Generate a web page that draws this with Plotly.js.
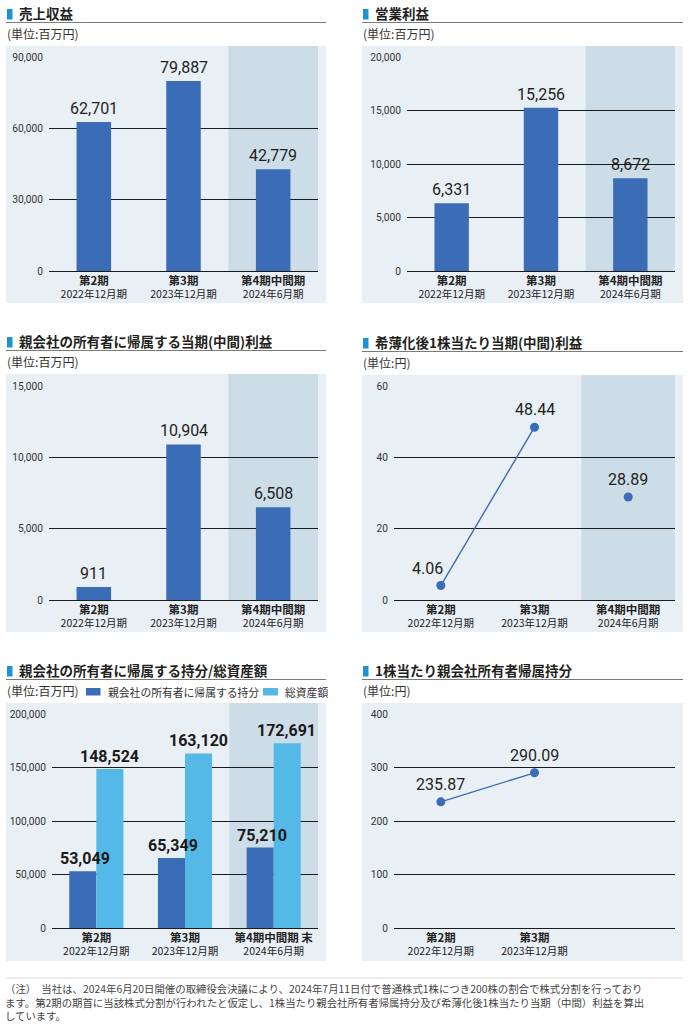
<!DOCTYPE html>
<html><head><meta charset="utf-8">
<script src="https://cdn.plot.ly/plotly-3.0.1.min.js"></script>
<style>html,body{margin:0;padding:0;background:#fff}</style>
</head><body><div id="chart" style="width:693px;height:1025px"></div>
<script>
// ---- data ----
const periods = ['第2期', '第3期', '第4期中間期'];
const periodDates = ['2022年12月期', '2023年12月期', '2024年6月期'];
const periodsEnd = ['第2期', '第3期', '第4期中間期 末'];
const revenue = [62701, 79887, 42779];
const operatingProfit = [6331, 15256, 8672];
const netProfit = [911, 10904, 6508];
const epsAnnual = [4.06, 48.44];
const epsInterim = [28.89];
const equity = [53049, 65349, 75210];
const totalAssets = [148524, 163120, 172691];
const bps = [235.87, 290.09];
const seriesNames = ['親会社の所有者に帰属する持分', '総資産額'];
const chartTitles = ['売上収益', '営業利益', '親会社の所有者に帰属する当期(中間)利益',
  '希薄化後1株当たり当期(中間)利益', '親会社の所有者に帰属する持分/総資産額', '1株当たり親会社所有者帰属持分'];
const unitMillion = '(単位:百万円)';
const unitYen = '(単位:円)';
const note = ['（注）　当社は、2024年6月20日開催の取締役会決議により、2024年7月11日付で普通株式1株につき200株の割合で株式分割を行っており',
  'ます。第2期の期首に当該株式分割が行われたと仮定し、1株当たり親会社所有者帰属持分及び希薄化後1株当たり当期（中間）利益を算出',
  'しています。'];

// ---- styles ----
const W = 693, H = 1025;
const px = x => x / W, py = y => 1 - y / H;
const C_DARK = '#3a6db5', C_LIGHT = '#55b9e7', C_BG = '#e8eff5', C_SHADE = '#cddde7', C_MARK = '#1d93d3';
const FONT = '"Noto Sans CJK JP", sans-serif';
const NUMFONT = 'Roboto, "Noto Sans", sans-serif';

const tickLabels = (names, dates) => names.map((n, i) =>
  '<span style="font-size:11.5px"><b>' + n + '</b></span><br>' + dates[i]);

const P = [
  {x0: 49, x1: 318, top: 57, zero: 271, bl: 6, br: 326, bt: 46, bb: 303, max: 90000, dt: 30000},
  {x0: 407, x1: 675, top: 57, zero: 271, bl: 362, br: 683, bt: 46, bb: 303, max: 20000, dt: 5000},
  {x0: 49, x1: 318, top: 386, zero: 600, bl: 6, br: 326, bt: 374, bb: 632, max: 15000, dt: 5000},
  {x0: 394, x1: 675, top: 386, zero: 600, bl: 362, br: 683, bt: 375, bb: 632, max: 60, dt: 20},
  {x0: 52, x1: 318, top: 714, zero: 928, bl: 6, br: 326, bt: 703, bb: 961, max: 200000, dt: 50000},
  {x0: 394, x1: 675, top: 714, zero: 928, bl: 362, br: 683, bt: 703, bb: 961, max: 400, dt: 100}
];
const shaded = [true, true, true, true, true, false];

const layout = {
  width: W, height: H, margin: {l: 0, r: 0, t: 0, b: 0},
  paper_bgcolor: '#ffffff', plot_bgcolor: 'rgba(0,0,0,0)',
  showlegend: false, barmode: 'overlay',
  font: {family: FONT, color: '#222'},
  shapes: [], annotations: []
};

P.forEach((p, k) => {
  const n = k === 0 ? '' : String(k + 1);
  const tl = k === 4 ? tickLabels(periodsEnd, periodDates)
           : k === 5 ? tickLabels(periods.slice(0, 2), periodDates.slice(0, 2))
           : tickLabels(periods, periodDates);
  layout['xaxis' + n] = {
    domain: [px(p.x0), px(p.x1)], range: [-0.5, 2.5], anchor: 'y' + n,
    tickmode: 'array', tickvals: tl.map((_, i) => i), ticktext: tl,
    showgrid: false, zeroline: false, showline: false, ticks: '',
    tickfont: {family: FONT, size: 10.5, color: '#222'}, fixedrange: true, ticklabelstandoff: 2
  };
  layout['yaxis' + n] = {
    domain: [py(p.zero), py(p.top)], range: [0, p.max], anchor: 'x' + n,
    dtick: p.dt, tick0: 0, tickformat: ',', showgrid: true, gridcolor: '#1a1a1a', gridwidth: 1,
    zeroline: true, zerolinecolor: '#1a1a1a', zerolinewidth: 1, showline: false, ticks: '',
    tickfont: {family: NUMFONT, size: 10.2, color: '#333'}, ticklabelstandoff: 5, fixedrange: true
  };
  layout.shapes.push({type: 'rect', xref: 'paper', yref: 'paper', layer: 'below',
    x0: px(p.bl), x1: px(p.br), y0: py(p.bb), y1: py(p.bt), fillcolor: C_BG, line: {width: 0}});
  if (shaded[k]) {
    layout.shapes.push({type: 'rect', xref: 'x' + n, yref: 'paper', layer: 'below',
      x0: 1.5, x1: 2.5, y0: py(p.zero), y1: py(p.bt), fillcolor: C_SHADE, line: {width: 0}});
  }
  const tY = p.bt - 33, uY = p.bt - 23.5, unitY = p.bt - 13;
  const left = p.bl;
  layout.shapes.push({type: 'rect', xref: 'paper', yref: 'paper',
    x0: px(left + 1), x1: px(left + 6.5), y0: py(tY + 6.5), y1: py(tY - 4), fillcolor: C_MARK, line: {width: 0}});
  layout.shapes.push({type: 'line', xref: 'paper', yref: 'paper',
    x0: px(left), x1: px(p.br), y0: py(uY), y1: py(uY), line: {color: '#7a7a7a', width: 1}});
  layout.annotations.push({xref: 'paper', yref: 'paper', x: px(left + 10.5), y: py(tY), xanchor: 'left', yanchor: 'middle',
    text: '<b>' + chartTitles[k] + '</b>', showarrow: false, font: {family: FONT, size: 13.5, color: '#231f20'}});
  layout.annotations.push({xref: 'paper', yref: 'paper', x: px(left - 1.5), y: py(unitY), xanchor: 'left', yanchor: 'middle',
    text: (k === 3 || k === 5) ? unitYen : unitMillion, showarrow: false, font: {family: FONT, size: 12, color: '#333'}});
});

const traces = [];
const barSeries = [revenue, operatingProfit, netProfit];
barSeries.forEach((vals, k) => {
  const n = k === 0 ? '' : String(k + 1);
  traces.push({type: 'bar', x: periods.map((_, i) => i), y: vals, xaxis: 'x' + n, yaxis: 'y' + n,
    width: 0.385, marker: {color: C_DARK, line: {width: 0}}, hoverinfo: 'skip'});
  vals.forEach((v, i) => layout.annotations.push({xref: 'x' + n, yref: 'y' + n, x: i, y: v,
    text: v.toLocaleString('en-US'), showarrow: false, yanchor: 'bottom', yshift: 2,
    font: {family: NUMFONT, size: 16, color: '#231f20'}}));
});

traces.push({type: 'scatter', mode: 'lines+markers', x: epsAnnual.map((_, i) => i), y: epsAnnual,
  xaxis: 'x4', yaxis: 'y4', line: {color: C_DARK, width: 1.4}, marker: {color: C_DARK, size: 9}, hoverinfo: 'skip'});
traces.push({type: 'scatter', mode: 'markers', x: [2], y: epsInterim,
  xaxis: 'x4', yaxis: 'y4', marker: {color: C_DARK, size: 9}, hoverinfo: 'skip'});
const epsAll = epsAnnual.concat(epsInterim);
epsAll.forEach((v, i) => layout.annotations.push({xref: 'x4', yref: 'y4', x: i, y: v,
  text: v.toFixed(2), showarrow: false, yanchor: 'bottom', yshift: 6, xshift: i === 0 ? -13 : 0,
  font: {family: NUMFONT, size: 16, color: '#231f20'}}));

traces.push({type: 'bar', name: seriesNames[0], x: equity.map((_, i) => i), y: equity, xaxis: 'x5', yaxis: 'y5',
  width: 0.305, offset: -0.305, marker: {color: C_DARK, line: {width: 0}}, hoverinfo: 'skip'});
traces.push({type: 'bar', name: seriesNames[1], x: totalAssets.map((_, i) => i), y: totalAssets, xaxis: 'x5', yaxis: 'y5',
  width: 0.305, offset: 0, marker: {color: C_LIGHT, line: {width: 0}}, hoverinfo: 'skip'});
equity.forEach((v, i) => layout.annotations.push({xref: 'x5', yref: 'y5', x: i - 0.13, y: v,
  text: '<b>' + v.toLocaleString('en-US') + '</b>', showarrow: false, yanchor: 'bottom', yshift: 1,
  font: {family: NUMFONT, size: 16, color: '#1a1a1a'}}));
totalAssets.forEach((v, i) => layout.annotations.push({xref: 'x5', yref: 'y5', x: i + 0.15, y: v,
  text: '<b>' + v.toLocaleString('en-US') + '</b>', showarrow: false, yanchor: 'bottom', yshift: 1,
  font: {family: NUMFONT, size: 16, color: '#1a1a1a'}}));

traces.push({type: 'scatter', mode: 'lines+markers', x: bps.map((_, i) => i), y: bps,
  xaxis: 'x6', yaxis: 'y6', line: {color: C_DARK, width: 1.4}, marker: {color: C_DARK, size: 9}, hoverinfo: 'skip'});
bps.forEach((v, i) => layout.annotations.push({xref: 'x6', yref: 'y6', x: i, y: v,
  text: v.toFixed(2), showarrow: false, yanchor: 'bottom', yshift: 6,
  font: {family: NUMFONT, size: 16, color: '#231f20'}}));

const legY = 691.5;
[[86, 100.5, C_DARK, 106, seriesNames[0]], [263, 278, C_LIGHT, 283, seriesNames[1]]].forEach(([a, b, c, tx, name]) => {
  layout.shapes.push({type: 'rect', xref: 'paper', yref: 'paper', x0: px(a), x1: px(b), y0: py(legY + 4), y1: py(legY - 3.5),
    fillcolor: c, line: {width: 0}});
  layout.annotations.push({xref: 'paper', yref: 'paper', x: px(tx), y: py(legY), xanchor: 'left', yanchor: 'middle',
    text: name, showarrow: false, font: {family: FONT, size: 10.8, color: '#333'}});
});

layout.shapes.push({type: 'line', xref: 'paper', yref: 'paper', x0: px(6), x1: px(683), y0: py(978), y1: py(978),
  line: {color: '#d8d8d8', width: 1}});
layout.annotations.push({xref: 'paper', yref: 'paper', x: px(4), y: py(1023.5), xanchor: 'left', yanchor: 'bottom', align: 'left',
  borderpad: 0, text: note.join('<br>'), showarrow: false, font: {family: FONT, size: 10.4, color: '#444'}});

Plotly.newPlot('chart', traces, layout, {staticPlot: true, displayModeBar: false});
</script>
</body></html>
